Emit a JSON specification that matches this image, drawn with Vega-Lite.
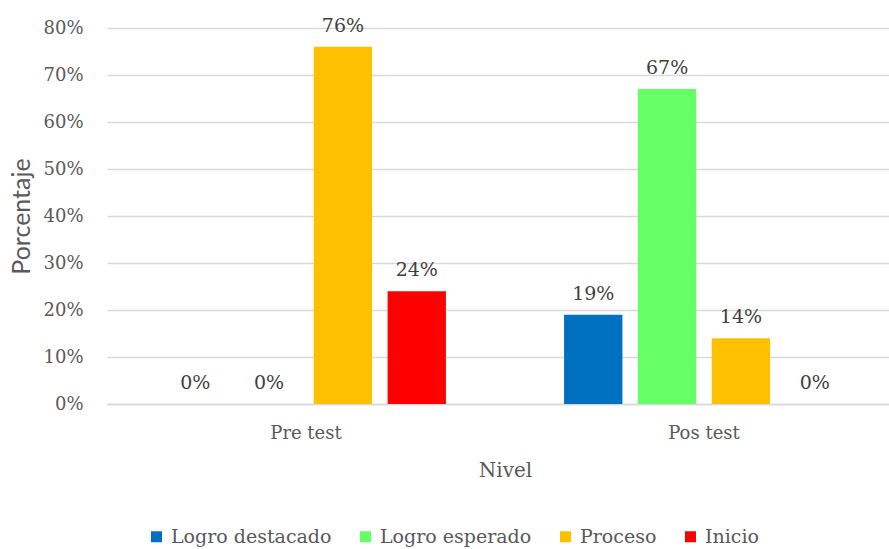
{
  "$schema": "https://vega.github.io/schema/vega-lite/v6.json",
  "autosize": "none",
  "width": 782,
  "height": 376,
  "padding": {"left": 107, "top": 28, "right": 0, "bottom": 145},
  "background": "white",
  "config": {"view": {"stroke": null}},
  "data": {"values": [
    {"nivel": "Pre test", "categoria": "Logro destacado", "valor": 0},
    {"nivel": "Pre test", "categoria": "Logro esperado", "valor": 0},
    {"nivel": "Pre test", "categoria": "Proceso", "valor": 0.76},
    {"nivel": "Pre test", "categoria": "Inicio", "valor": 0.24},
    {"nivel": "Pos test", "categoria": "Logro destacado", "valor": 0.19},
    {"nivel": "Pos test", "categoria": "Logro esperado", "valor": 0.67},
    {"nivel": "Pos test", "categoria": "Proceso", "valor": 0.14},
    {"nivel": "Pos test", "categoria": "Inicio", "valor": 0}
  ]},
  "encoding": {
    "x": {"field": "nivel", "type": "nominal", "sort": ["Pre test", "Pos test"],
      "scale": {"paddingInner": 0, "paddingOuter": 0, "range": [0, 796]},
      "axis": {"title": "Nivel", "labelAngle": 0, "ticks": false, "domain": true, "domainColor": "#d9d9d9", "domainWidth": 1.5,
        "labelFont": "DejaVu Serif", "labelFontSize": 18, "labelColor": "#595959", "labelPadding": 20,
        "titleFont": "DejaVu Serif", "titleFontSize": 20, "titleFontWeight": "normal", "titleColor": "#595959", "titlePadding": 18}},
    "xOffset": {"field": "categoria", "type": "nominal", "sort": ["Logro destacado", "Logro esperado", "Proceso", "Inicio"],
      "scale": {"paddingInner": 0.21, "paddingOuter": 0.8}},
    "y": {"field": "valor", "type": "quantitative",
      "scale": {"domain": [0, 0.8], "nice": false},
      "axis": {"title": "Porcentaje", "format": ".0%", "values": [0, 0.1, 0.2, 0.3, 0.4, 0.5, 0.6, 0.7, 0.8], "labelOverlap": false,
        "ticks": false, "domain": false, "grid": true, "gridColor": "#d9d9d9", "gridWidth": 1.5,
        "labelFont": "DejaVu Serif", "labelFontSize": 18, "labelColor": "#595959", "labelPadding": 24,
        "titleFont": "Lato", "titleFontSize": 25, "titleFontWeight": "normal", "titleColor": "#595959", "titlePadding": 8}},
    "color": {"field": "categoria", "type": "nominal", "sort": ["Logro destacado", "Logro esperado", "Proceso", "Inicio"],
      "scale": {"domain": ["Logro destacado", "Logro esperado", "Proceso", "Inicio"], "range": ["#0070C0", "#66FF66", "#FFC000", "#FF0000"]},
      "legend": {"title": null, "orient": "none", "legendX": 40, "legendY": 499, "direction": "horizontal",
        "symbolType": "square", "symbolSize": 121, "symbolStrokeWidth": 0, "labelFont": "DejaVu Serif", "labelFontSize": 19,
        "labelColor": "#595959", "labelOffset": 5, "columnPadding": 24, "labelLimit": 300}}
  },
  "layer": [
    {"mark": {"type": "bar"}},
    {"mark": {"type": "text", "baseline": "alphabetic", "dy": -15, "font": "DejaVu Serif", "fontSize": 19},
      "encoding": {"text": {"field": "valor", "type": "quantitative", "format": ".0%"}, "color": {"value": "#404040"}}}
  ]
}
